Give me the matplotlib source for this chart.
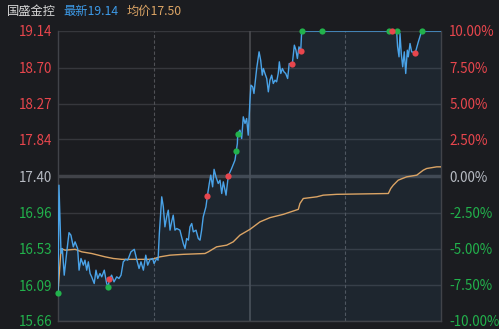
import numpy as np
import matplotlib.pyplot as plt

plt.rcParams['font.family'] = ['Noto Sans CJK SC', 'DejaVu Sans']

# Intraday data (minute index 0..240)
pre_close = 17.40
price_min = [0, 0.6, 1.9, 2.7, 3.9, 5.5, 6.9, 8.1, 9.6, 10.7, 12.3, 13.2, 14.4, 15.9,
             16.9, 18.0, 19.0, 20.1, 21.1, 22.7, 23.8, 24.9, 26.3, 27.4, 29.0, 30.5,
             31.5, 32.1, 33.6, 35.1, 36.8, 38.2, 39.5, 40.9, 42.4, 43.7, 45.7, 47.8,
             49.3, 50.8, 52.0, 53.5, 55.0, 56.2, 57.7, 59.3, 60.2, 61.8, 62.7, 63.5,
             65.0, 66.0, 67.0, 68.1, 69.1, 70.2, 71.2, 72.2, 73.3, 74.4, 76.4, 78.5,
             79.6, 80.6, 81.7, 82.7, 83.8, 84.8, 86.5, 87.9, 89.0, 90.0, 91.0, 92.7,
             93.6, 94.8, 95.7, 96.9, 97.8, 99.0, 100.4, 101.5, 102.6, 103.6, 105.3,
             106.7, 108.8, 110.9, 111.7, 112.4, 112.6, 114.0, 115.1, 116.1, 117.2,
             118.2, 119.2, 120.3, 120.9, 122.0, 122.8, 124.5, 126.0, 127.0, 128.0,
             128.7, 129.7, 130.8, 131.8, 132.8, 133.9, 134.9, 136.0, 137.0, 138.0,
             138.7, 139.6, 140.6, 141.6, 142.7, 143.9, 144.9, 146.8, 148.1, 149.1,
             150.0, 151.0, 152.1, 152.7, 212.2, 212.8, 213.7, 214.3, 215.1, 216.0,
             217.0, 217.9, 218.9, 219.5, 220.6, 221.6, 223.9, 225.8, 227.9, 240]
price = [16.00, 17.29, 16.47, 16.53, 16.21, 16.49, 16.72, 16.69, 16.55, 16.61, 16.53,
         16.27, 16.41, 16.33, 16.39, 16.27, 16.37, 16.23, 16.19, 16.11, 16.27, 16.17,
         16.23, 16.19, 16.27, 16.11, 16.07, 16.16, 16.21, 16.13, 16.19, 16.17, 16.21,
         16.37, 16.40, 16.39, 16.49, 16.52, 16.40, 16.29, 16.37, 16.27, 16.45, 16.33,
         16.40, 16.41, 16.35, 16.41, 16.39, 16.71, 17.15, 17.03, 16.79, 16.91, 16.99,
         16.75, 16.85, 16.93, 16.75, 16.77, 16.75, 16.59, 16.53, 16.65, 16.63, 16.79,
         16.83, 16.73, 16.75, 16.65, 16.63, 16.75, 16.91, 17.03, 17.16, 17.31, 17.41,
         17.27, 17.48, 17.39, 17.31, 17.35, 17.19, 17.33, 17.17, 17.40, 17.49, 17.59,
         17.70, 17.79, 17.91, 17.95, 17.85, 18.11, 18.03, 18.09, 17.89, 18.31, 18.49,
         18.47, 18.39, 18.69, 18.89, 18.79, 18.61, 18.69, 18.63, 18.57, 18.41, 18.55,
         18.61, 18.51, 18.55, 18.53, 18.63, 18.77, 18.63, 18.69, 18.65, 18.63, 18.57,
         18.75, 18.74, 18.97, 18.91, 18.81, 18.95, 18.90, 19.14, 19.14, 18.95, 18.83,
         19.11, 18.87, 18.71, 18.89, 18.63, 18.91, 18.83, 18.99, 18.89, 18.88, 19.01,
         19.14, 19.14]

avg_min = [0, 1.9, 4.4, 10.7, 14.9, 21.1, 29.5, 34.7, 39.9, 58.7, 63.9, 70.2, 78.5,
           92.1, 94.2, 99.4, 105.7, 109.8, 114.0, 120.3, 126.6, 132.8, 141.2, 150.6,
           151.6, 153.7, 162.1, 166.2, 174.6, 207.0, 208.5, 210.1, 213.2, 218.5,
           224.8, 228.9, 231.0, 237.3, 240]
avg_price = [16.00, 16.53, 16.51, 16.52, 16.49, 16.47, 16.43, 16.41, 16.40, 16.40,
             16.43, 16.45, 16.46, 16.47, 16.49, 16.55, 16.57, 16.61, 16.69, 16.76,
             16.85, 16.90, 16.94, 17.00, 17.07, 17.13, 17.15, 17.17, 17.18, 17.19,
             17.25, 17.29, 17.35, 17.39, 17.41, 17.47, 17.49, 17.51, 17.51]

buy_min = [0, 31.5, 111.5, 112.6, 152.7, 165.6, 207.4, 212.2, 227.9]
buy_price = [16.00, 16.07, 17.70, 17.91, 19.14, 19.14, 19.14, 19.14, 19.14]
sell_min = [32.1, 93.6, 106.7, 146.8, 152.1, 209.1, 223.9]
sell_price = [16.16, 17.16, 17.40, 18.74, 18.90, 19.14, 18.88]

left_ticks = [19.14, 18.70, 18.27, 17.84, 17.40, 16.96, 16.53, 16.09, 15.66]
right_ticks = [10.0, 7.5, 5.0, 2.5, 0.0, -2.5, -5.0, -7.5, -10.0]

bg = '#1b1c20'
red = '#e8464d'
green = '#22b24c'
gray = '#b8bcc4'
blue = '#4aa3e8'
orange = '#dba465'

fig = plt.figure(figsize=(4.99, 3.29), dpi=100, facecolor=bg)
ax = fig.add_axes([58 / 499, 8 / 329, 383 / 499, 290 / 329], facecolor=bg)
ax.set_xlim(0, 240)
ax.set_ylim(15.66, 19.14)

# grid
for t in left_ticks:
    if t == pre_close:
        ax.axhline(t, color='#414349', lw=2.5, zorder=1)
    else:
        ax.axhline(t, color='#36373c', lw=1, zorder=1)
ax.axvline(60, color='#505156', lw=0.8, ls=(0, (3, 2)), zorder=1)
ax.axvline(180, color='#505156', lw=0.8, ls=(0, (3, 2)), zorder=1)
ax.axvline(120, color='#4a4b50', lw=1.2, zorder=1)

for s in ax.spines.values():
    s.set_color('#414349')
    s.set_linewidth(1)
ax.spines['top'].set_visible(False)

ax.fill_between(price_min, price, 15.66, color=blue, alpha=0.08, lw=0, zorder=2)
ax.plot(avg_min, avg_price, color=orange, lw=1, zorder=3)
ax.plot(price_min, price, color=blue, lw=1.0, zorder=4)
ax.scatter(buy_min, buy_price, s=20, color=green, zorder=5, linewidths=0, clip_on=False)
ax.scatter(sell_min, sell_price, s=20, color=red, zorder=5, linewidths=0, clip_on=False)

ax.set_xticks([])
ax.set_yticks(left_ticks)
ax.set_yticklabels(['%.2f' % t for t in left_ticks])
ax.tick_params(axis='y', length=0, pad=4, labelsize=9.7)
for lab, t in zip(ax.get_yticklabels(), left_ticks):
    lab.set_color(red if t > pre_close else (gray if t == pre_close else green))

ax2 = ax.twinx()
ax2.set_ylim(-10, 10)
ax2.set_yticks(right_ticks)
ax2.set_yticklabels(['%.2f%%' % t for t in right_ticks])
ax2.tick_params(axis='y', length=0, pad=6, labelsize=9.7)
for s in ax2.spines.values():
    s.set_visible(False)
for lab, t in zip(ax2.get_yticklabels(), right_ticks):
    lab.set_color(red if t > 0 else (gray if t == 0 else green))

fig.text(7 / 499, 1 - 11 / 329, '国盛金控', color='#d8d8d8', fontsize=8.8, va='center')
fig.text(63 / 499, 1 - 11 / 329, '最新19.14', color='#3d9be9', fontsize=8.8, va='center')
fig.text(127 / 499, 1 - 11 / 329, '均价17.50', color='#dba465', fontsize=8.8, va='center')

fig.savefig('out.png', dpi=100, facecolor=bg)
